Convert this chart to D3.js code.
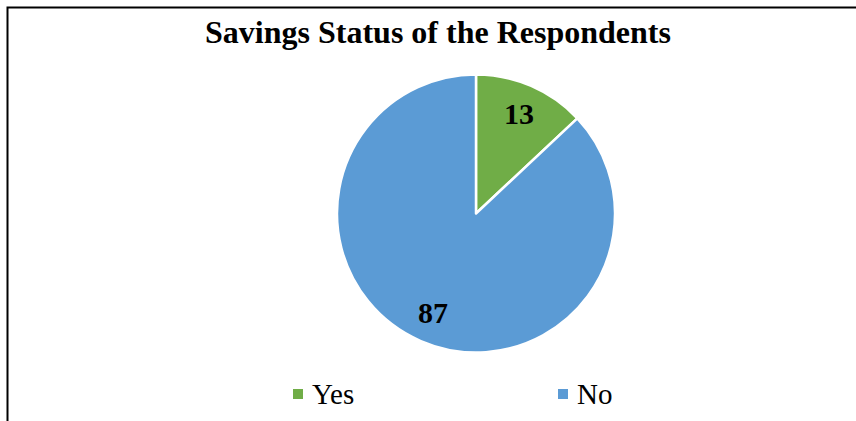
<!DOCTYPE html>
<html lang="en">
<head>
    <meta charset="UTF-8">
    <title>Savings Status of the Respondents</title>
    <style type="text/css">
        * {
            margin: 0;
            padding: 0;
        }
        body {
            background: #fff;
        }
        #chart-area {
            width: 856px;
            height: 421px;
        }
    </style>
</head>
<body>
<div id="chart-area"></div>
<script src="https://cdn.jsdelivr.net/npm/d3@7"></script>
<script type="text/javascript">

  const WIDTH = 856
  const HEIGHT = 421

  const categories = ['Yes', 'No']
  const values = [13, 87]
  const colors = ['#70ad47', '#5b9bd5']

  const svg = d3.select('#chart-area').append('svg')
      .attr('width', WIDTH)
      .attr('height', HEIGHT)

  // frame: only top and left edges are visible in the picture
  svg.append('path')
      .attr('d', `M7.5,${HEIGHT} V7.5 H${WIDTH}`)
      .attr('fill', 'none')
      .attr('stroke', '#000')
      .attr('stroke-width', 2)

  svg.append('text')
      .attr('x', 438)
      .attr('y', 43)
      .attr('text-anchor', 'middle')
      .attr('font-family', '"Liberation Serif", "Times New Roman", serif')
      .attr('font-weight', 'bold')
      .attr('font-size', '32px')
      .text('Savings Status of the Respondents')

  const color = d3.scaleOrdinal()
      .domain(categories)
      .range(colors)

  const R = 139
  const g = svg.append('g')
      .attr('transform', `translate(476, 213.5)`)

  const pie = d3.pie()
      .sort(null)
      .value((d) => d.value)

  const data = categories.map((c, i) => ({ name: c, value: values[i] }))

  const arc = d3.arc()
      .innerRadius(0)
      .outerRadius(R)

  const labelArc = d3.arc()
      .innerRadius(R * 0.78)
      .outerRadius(R * 0.78)

  const part = g.selectAll('.part')
      .data(pie(data))
      .enter()
      .append('g')

  part.append('path')
      .attr('d', arc)
      .attr('fill', (d) => color(d.data.name))
      .attr('stroke', '#fff')
      .attr('stroke-width', 2.5)
      .attr('stroke-linejoin', 'round')

  part.append('text')
      .attr('transform', (d) => {
        const c = labelArc.centroid(d)
        return `translate(${c[0]}, ${c[1] + 10})`
      })
      .attr('text-anchor', 'middle')
      .attr('font-family', '"Liberation Serif", "Times New Roman", serif')
      .attr('font-weight', 'bold')
      .attr('font-size', '30px')
      .text((d) => d.data.value)

  // legend
  const legendX = d3.scalePoint()
      .domain(categories)
      .range([293, 558])

  const legend = svg.selectAll('.legend')
      .data(categories)
      .enter()
      .append('g')
      .attr('transform', (d) => `translate(${legendX(d)}, 389)`)

  legend.append('rect')
      .attr('width', 10)
      .attr('height', 10)
      .attr('fill', (d) => color(d))

  legend.append('text')
      .attr('x', 19)
      .attr('y', 15)
      .attr('font-family', '"Liberation Serif", "Times New Roman", serif')
      .attr('font-size', '29px')
      .text((d) => d)

</script>
</body>
</html>
